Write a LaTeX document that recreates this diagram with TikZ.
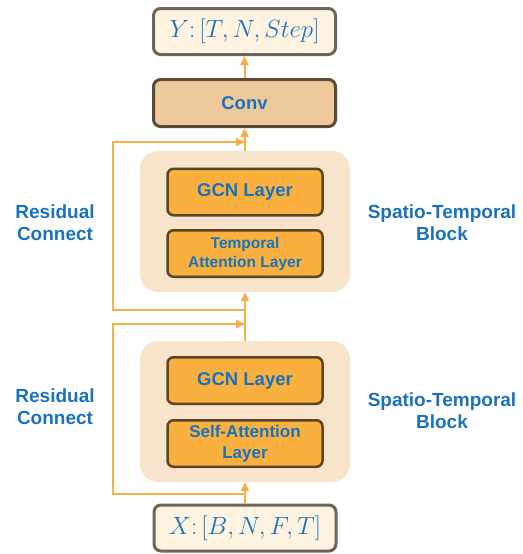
\documentclass[tikz,border=0pt]{standalone}
\usepackage{fontspec}
\setmainfont{Liberation Sans}
\usetikzlibrary{arrows.meta}
\definecolor{txtblue}{HTML}{1A72BC}
\definecolor{arr}{HTML}{F3AF48}
\definecolor{orangefill}{HTML}{F9B03F}
\definecolor{darkbrown}{HTML}{5C4428}
\definecolor{blockfill}{HTML}{F7E4CB}
\definecolor{iofill}{HTML}{FEF2E0}
\definecolor{ioborder}{HTML}{6E6558}
\definecolor{convfill}{HTML}{EEC99B}
\definecolor{convborder}{HTML}{5D4A36}
\tikzset{
  iobox/.style={draw=ioborder, line width=3pt, fill=iofill, rounded corners=7pt, minimum width=182pt, minimum height=46pt, text=txtblue, inner sep=0pt},
  convbox/.style={draw=convborder, line width=3pt, fill=convfill, rounded corners=7pt, minimum width=182pt, minimum height=47pt, text=txtblue, inner sep=0pt, font=\fontsize{18.5}{22}\selectfont\bfseries},
  blockbox/.style={fill=blockfill, rounded corners=18pt, minimum width=210pt, minimum height=141pt, inner sep=0pt},
  layerbox/.style={draw=darkbrown, line width=2.5pt, fill=orangefill, rounded corners=6pt, minimum width=155pt, minimum height=46.5pt, text=txtblue, inner sep=0pt, align=center},
  lbl/.style={text=txtblue, align=center, font=\fontsize{19}{22}\selectfont\bfseries},
  flow/.style={draw=arr, line width=2pt, -{Triangle[length=9pt,width=8pt]}},
  res/.style={draw=arr, line width=2pt}
}
\begin{document}
\begin{tikzpicture}[x=1pt,y=-1pt]
\useasboundingbox (0,0) rectangle (522,554);
% blocks
\node[blockbox] (blockT) at (245,221.5) {};
\node[blockbox] (blockB) at (245,411.5) {};
% layers
\node[layerbox, font=\fontsize{18.5}{22}\selectfont\bfseries] (gcnT) at (245,192) {GCN Layer};
\node[layerbox, font=\fontsize{15.5}{19}\selectfont\bfseries] (tatt) at (245,253.5) {Temporal\\Attention Layer};
\node[layerbox, font=\fontsize{18.5}{22}\selectfont\bfseries] (gcnB) at (245,380.5) {GCN Layer};
\node[layerbox, font=\fontsize{17}{21}\selectfont\bfseries] (satt) at (245,443.5) {Self-Attention\\Layer};
% io and conv
\node[iobox] (Y) at (244.5,31.5) {\fontsize{23.5}{26}\selectfont $Y\colon[T,N,Step]$};
\node[convbox] (conv) at (244.5,103) {Conv};
\node[iobox] (X) at (245,528) {\fontsize{23.5}{26}\selectfont $X\colon[B,N,F,T]$};
% labels
\node[lbl] (resT) at (55,223) {Residual\\Connect};
\node[lbl] (resB) at (55,407) {Residual\\Connect};
\node[lbl] (stT) at (442,223) {Spatio-Temporal\\Block};
\node[lbl] (stB) at (442,411) {Spatio-Temporal\\Block};
% main flow
\draw[flow] (X.north) -- (blockB.south);
\draw[flow] (blockB.north) -- (blockT.south);
\draw[flow] (blockT.north) -- (conv.south);
\draw[flow] (conv.north) -- (Y.south);
% residual connections
\coordinate (rbs) at (245,494);
\coordinate (rbl) at (113,494);
\coordinate (rbu) at (113,324);
\coordinate (rbe) at (245,324);
\coordinate (rts) at (245,310);
\coordinate (rtl) at (113,310);
\coordinate (rtu) at (113,142);
\coordinate (rte) at (245,142);
\draw[res, -{Triangle[length=9pt,width=8pt]}] (rbs) -- (rbl) -- (rbu) -- (rbe);
\draw[res, -{Triangle[length=9pt,width=8pt]}] (rts) -- (rtl) -- (rtu) -- (rte);
\end{tikzpicture}
\end{document}
